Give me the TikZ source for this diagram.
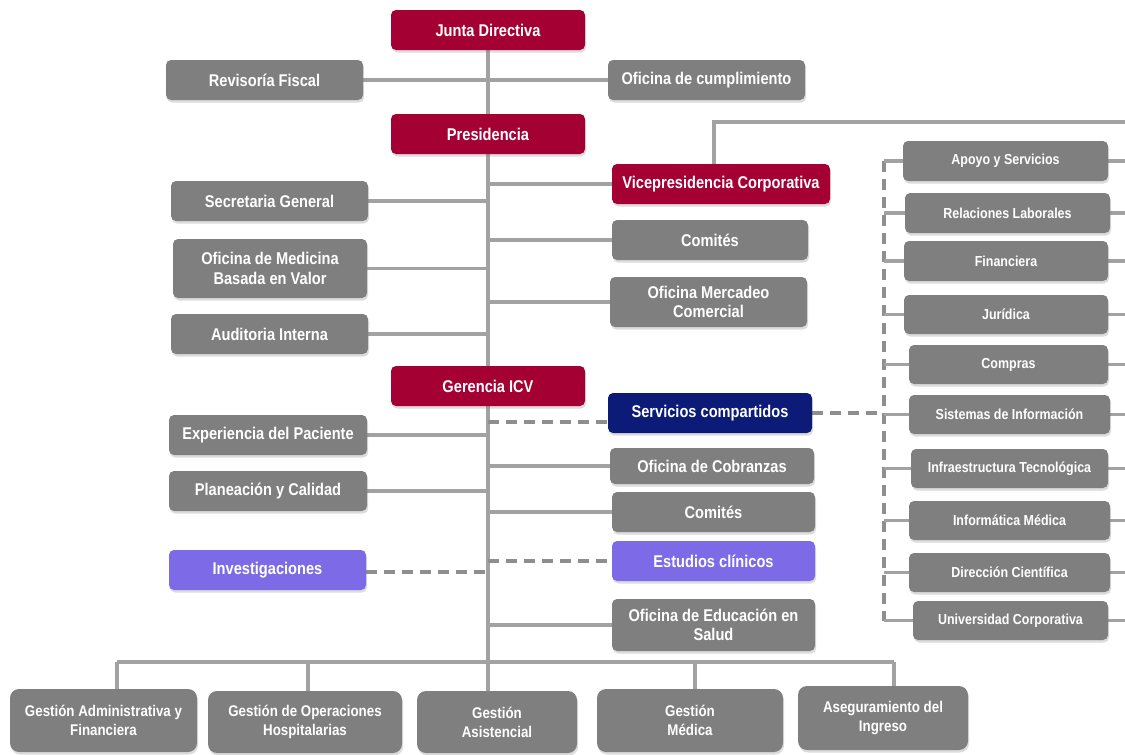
\documentclass[tikz,border=0pt]{standalone}
\usepackage{fontspec}
\setmainfont{Liberation Sans}[FakeStretch=0.86]
\usetikzlibrary{shadows,backgrounds}
\definecolor{crim}{HTML}{A50034}
\definecolor{gbox}{HTML}{7F7F7F}
\definecolor{navy}{HTML}{0C1A78}
\definecolor{lila}{HTML}{7D6AE6}
\definecolor{lin}{HTML}{A2A2A2}
\definecolor{dsh}{HTML}{8E8E8E}
\tikzset{
  box/.style={rounded corners=5pt, text=white, align=center, inner sep=0pt,
    font=\bfseries\fontsize{17}{19.5}\selectfont,
    drop shadow={opacity=0.28,shadow xshift=1pt,shadow yshift=-2.5pt}},
  redbox/.style={box, fill=crim},
  graybox/.style={box, fill=gbox},
  navybox/.style={box, fill=navy},
  lilabox/.style={box, fill=lila},
  smallbox/.style={box, fill=gbox, font=\bfseries\fontsize{14.5}{16}\selectfont},
  botbox/.style={box, fill=gbox, rounded corners=9pt, font=\bfseries\fontsize{15.5}{19}\selectfont},
  conn/.style={draw=lin, line width=3.4pt},
  dconn/.style={draw=dsh, line width=3.4pt, dash pattern=on 11pt off 7pt},
}
\newcommand\obox[7]{\node[#1, minimum width={#5pt-#3pt}, minimum height={#6pt-#4pt}] (#2) at ({(#3+#5)/2},{(#4+#6)/2}) {#7};}
\begin{document}
\begin{tikzpicture}[x=1pt,y=-1pt]
\useasboundingbox (0,0) rectangle (1125,755);
\coordinate (spine) at (488,0);
\coordinate (redge) at (1125,0);
\coordinate (dashx) at (884,0);
\coordinate (busL) at (117,662);
\coordinate (busR) at (894,662);
\coordinate (b2) at (308,662);
\coordinate (b3) at (488,662);
\coordinate (b4) at (695,662);
\coordinate (vptop) at (714,122);
\coordinate (vpR) at (1125,122);
\coordinate (scd) at (488,422);
\coordinate (invd) at (488,572);

% boxes
\obox{redbox}{jd}{391}{10}{585}{50}{Junta Directiva}
\obox{graybox}{rf}{166}{60}{363}{100}{Revisoría Fiscal}
\obox{graybox}{oc}{608}{60}{805}{100}{Oficina de cumplimiento}
\obox{redbox}{pres}{391}{114}{585}{154}{Presidencia}
\obox{redbox}{vp}{612}{164}{830}{204}{Vicepresidencia Corporativa}
\obox{graybox}{sg}{171}{181}{368}{221}{Secretaria General}
\obox{graybox}{com1}{612}{220}{808}{260}{Comités}
\obox{graybox}{omb}{173}{239}{367}{298}{Oficina de Medicina\\Basada en Valor}
\obox{graybox}{omc}{610}{277}{807}{327}{Oficina Mercadeo\\Comercial}
\obox{graybox}{ai}{171}{314}{368}{354}{Auditoria Interna}
\obox{redbox}{ger}{391}{366}{585}{406}{Gerencia ICV}
\obox{navybox}{sc}{608}{393}{812}{433}{Servicios compartidos}
\obox{graybox}{ep}{169}{415}{367}{455}{Experiencia del Paciente}
\obox{graybox}{ocb}{610}{448}{814}{484}{Oficina de Cobranzas}
\obox{graybox}{pc}{169}{471}{367}{511}{Planeación y Calidad}
\obox{graybox}{com2}{612}{492}{815}{532}{Comités}
\obox{lilabox}{ec}{612}{541}{815}{581}{Estudios clínicos}
\obox{lilabox}{inv}{169}{550}{366}{590}{Investigaciones}
\obox{graybox}{oes}{612}{599}{815}{651}{Oficina de Educación en\\Salud}

\obox{botbox}{ga}{10}{689}{197}{752}{Gestión Administrativa y\\Financiera}
\obox{botbox}{go}{208}{691}{402}{753}{Gestión de Operaciones\\Hospitalarias}
\obox{botbox}{gas}{417}{691}{577}{753}{Gestión\\Asistencial}
\obox{botbox}{gm}{597}{689}{783}{752}{Gestión\\Médica}
\obox{botbox}{asi}{798}{686}{968}{750}{Aseguramiento del\\Ingreso}

\obox{smallbox}{r1}{903}{141}{1108}{181}{Apoyo y Servicios}
\obox{smallbox}{r2}{905}{193}{1110}{233}{Relaciones Laborales}
\obox{smallbox}{r3}{904}{241}{1108}{281}{Financiera}
\obox{smallbox}{r4}{904}{295}{1108}{334}{Jurídica}
\obox{smallbox}{r5}{909}{345}{1108}{384}{Compras}
\obox{smallbox}{r6}{909}{395}{1110}{434}{Sistemas de Información}
\obox{smallbox}{r7}{911}{449}{1108}{488}{Infraestructura Tecnológica}
\obox{smallbox}{r8}{909}{501}{1110}{540}{Informática Médica}
\obox{smallbox}{r9}{909}{553}{1110}{592}{Dirección Científica}
\obox{smallbox}{r10}{913}{601}{1108}{640}{Universidad Corporativa}

\begin{scope}[on background layer]
  % spine
  \draw[conn] (jd.south) -- (pres.north);
  \draw[conn] (pres.south) -- (ger.north);
  \draw[conn] (ger.south) -- (b3);
  \draw[conn] (rf.east) -- (oc.west);
  % presidencia and gerencia branches
  \foreach \n in {sg,omb,ai,ep,pc}{\draw[conn] (\n.east) -- (\n.east -| spine);}
  \foreach \n in {vp,com1,omc,ocb,com2,oes}{\draw[conn] (\n.west) -- (\n.west -| spine);}
  % vicepresidencia to the right
  \draw[conn] (vptop |- vp.north) -- (vptop) -- (vpR);
  % dashed links
  \draw[dconn] (scd) -- (scd -| sc.west);
  \draw[dconn] (ec.west -| spine) -- (ec.west);
  \draw[dconn] (invd -| inv.east) -- (invd);
  \draw[dconn] (sc.east) -- (sc.east -| dashx);
  % right column
  \draw[dconn] (r1.west -| dashx) -- (r10.west -| dashx);
  \foreach \n in {r1,r2,r3,r4,r5,r6,r7,r8,r9,r10}{
    \draw[conn] (\n.west) -- (\n.west -| dashx);
    \draw[conn] (\n.east) -- (\n.east -| redge);}
  % bottom bus
  \draw[conn] (busL) -- (busR);
  \draw[conn] (busL) -- (busL |- ga.north);
  \draw[conn] (b2) -- (b2 |- go.north);
  \draw[conn] (b3) -- (b3 |- gas.north);
  \draw[conn] (b4) -- (b4 |- gm.north);
  \draw[conn] (busR) -- (busR |- asi.north);
\end{scope}
\end{tikzpicture}
\end{document}
